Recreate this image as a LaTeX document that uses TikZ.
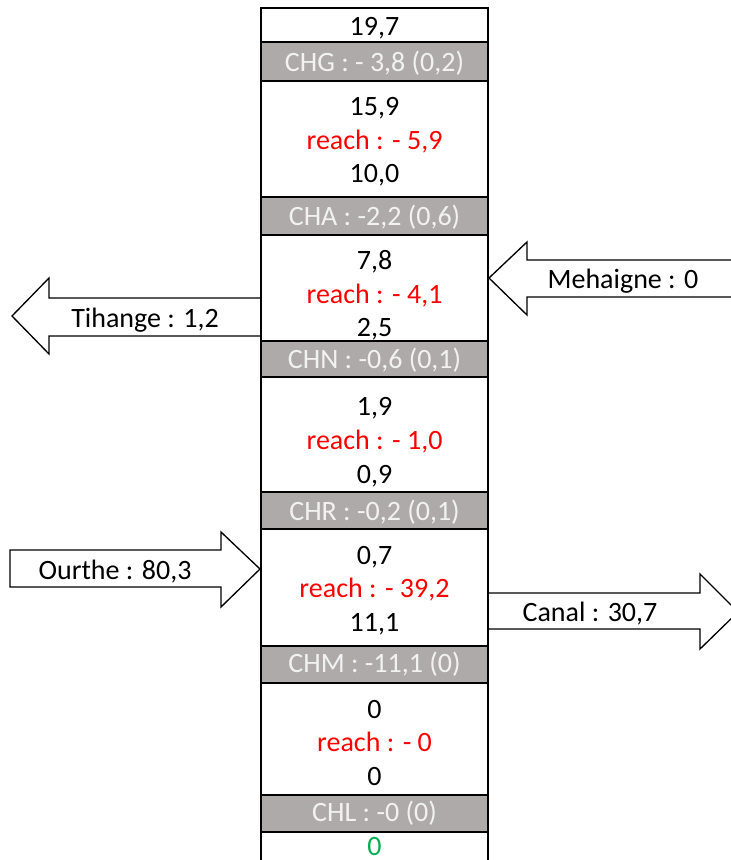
\documentclass[tikz,border=0pt]{standalone}
\usepackage{fontspec}
\setmainfont{Carlito}

\definecolor{chgray}{RGB}{174,170,170}
\definecolor{chtext}{RGB}{242,242,242}
\definecolor{reachred}{RGB}{255,0,0}
\definecolor{outgreen}{RGB}{0,176,80}

\tikzset{every picture/.style={line width=0.75pt}}
\tikzset{
  reachbox/.style={draw=black, fill=white, line width=1.5pt},
  chbox/.style={draw=black, fill=chgray, line width=1.5pt},
  flowarrow/.style={draw=black, fill=white, line width=1pt, line join=miter},
  lbl/.style={anchor=base, inner sep=0.75pt, font=\fontsize{21}{25}\selectfont},
  chlbl/.style={lbl, text=chtext},
  redlbl/.style={lbl, text=reachred},
}

\begin{document}
\begin{tikzpicture}[x=0.75pt,y=0.75pt,yscale=-1,xscale=1]
\useasboundingbox (0,0) rectangle (731,860);

% Flow arrows
\draw[flowarrow] (261,298) -- (49,298) -- (49,278) -- (12,316) -- (49,354) -- (49,336) -- (261,336);
\draw[flowarrow] (745,260) -- (527,260) -- (527,242) -- (489,278) -- (527,315) -- (527,297) -- (745,297);
\draw[flowarrow] (10,550) -- (221,550) -- (221,532) -- (260,569) -- (221,607) -- (221,587) -- (10,587) -- cycle;
\draw[flowarrow] (489,593) -- (700,593) -- (700,574) -- (738,612) -- (700,649) -- (700,629) -- (489,629);

% Reach column
\draw[reachbox] (261,8) rectangle (488,42);
\draw[chbox] (261,42) rectangle (488,81);
\draw[reachbox] (261,81) rectangle (488,197);
\draw[chbox] (261,197) rectangle (488,235);
\draw[reachbox] (261,235) rectangle (488,341);
\draw[chbox] (261,341) rectangle (488,377);
\draw[reachbox] (261,377) rectangle (488,492);
\draw[chbox] (261,492) rectangle (488,529);
\draw[reachbox] (261,529) rectangle (488,646);
\draw[chbox] (261,646) rectangle (488,683);
\draw[reachbox] (261,683) rectangle (488,795);
\draw[chbox] (261,795) rectangle (488,832);
\draw[reachbox] (261,832) rectangle (488,875);

% Text Node
\node[lbl] (qtop) at (374.5,35) {19,7};
\node[chlbl] (chg) at (374.5,71) {CHG : - 3,8 (0,2)};
\node[lbl] (qin1) at (374.5,115) {15,9};
\node[redlbl] (reach1) at (374.5,149) {reach : - 5,9};
\node[lbl] (qout1) at (374.5,182) {10,0};
\node[chlbl] (cha) at (374.5,225) {CHA : -2,2 (0,6)};
\node[lbl] (qin2) at (374.5,269) {7,8};
\node[redlbl] (reach2) at (374.5,303) {reach : - 4,1};
\node[lbl] (qout2) at (374.5,336) {2,5};
\node[chlbl] (chn) at (374.5,368) {CHN : -0,6 (0,1)};
\node[lbl] (qin3) at (374.5,415) {1,9};
\node[redlbl] (reach3) at (374.5,449) {reach : - 1,0};
\node[lbl] (qout3) at (374.5,483) {0,9};
\node[chlbl] (chr) at (374.5,520) {CHR : -0,2 (0,1)};
\node[lbl] (qin4) at (374.5,564) {0,7};
\node[redlbl] (reach4) at (374.5,597) {reach : - 39,2};
\node[lbl] (qout4) at (374.5,631) {11,1};
\node[chlbl] (chm) at (374.5,672) {CHM : -11,1 (0)};
\node[lbl] (qin5) at (374.5,718) {0};
\node[redlbl] (reach5) at (374.5,751) {reach : - 0};
\node[lbl] (qout5) at (374.5,785) {0};
\node[chlbl] (chl) at (374.5,821) {CHL : -0 (0)};
\node[lbl, text=outgreen] (qend) at (374.5,855) {0};

% Arrow labels
\node[lbl] (tihange) at (145,327) {Tihange : 1,2};
\node[lbl] (mehaigne) at (623,288) {Mehaigne : 0};
\node[lbl] (ourthe) at (115,579) {Ourthe : 80,3};
\node[lbl] (canal) at (590,621) {Canal : 30,7};

\end{tikzpicture}
\end{document}
